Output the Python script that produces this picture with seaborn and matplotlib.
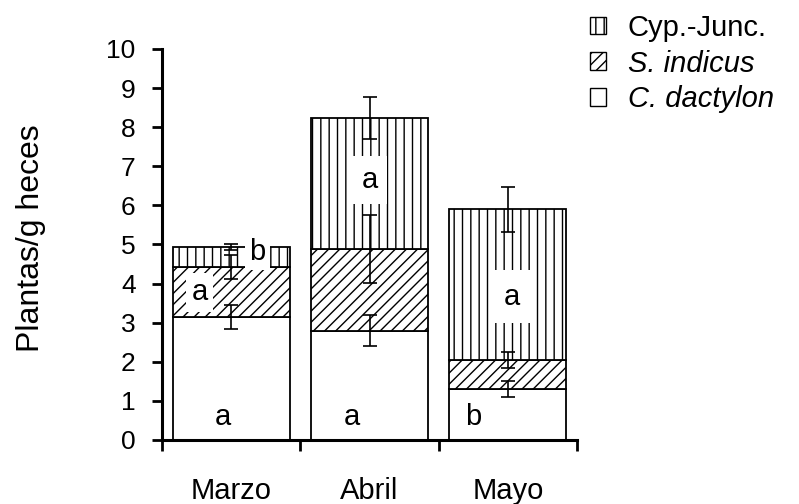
import numpy as np
import matplotlib
matplotlib.use("Agg")
import matplotlib.pyplot as plt
import matplotlib.patches as mpatches
import seaborn as sns

# data (plants per gram of faeces)
months = ["Marzo", "Abril", "Mayo"]
c_dactylon = [3.15, 2.80, 1.30]
s_indicus = [1.27, 2.08, 0.75]
cyp_junc = [0.52, 3.35, 3.85]
c_dactylon_err = [0.30, 0.40, 0.20]
s_indicus_err = [0.30, 0.87, 0.20]
cyp_junc_err = [0.08, 0.53, 0.57]
letters_dactylon = ["a", "a", "b"]
letters_indicus = ["a", "", ""]
letters_cyp = ["b", "a", "a"]

sns.set_style("ticks")
plt.rcParams["font.family"] = ["Liberation Sans", "DejaVu Sans"]
plt.rcParams["hatch.linewidth"] = 1.0
plt.rcParams["hatch.color"] = "black"
for key in ["text.color", "axes.labelcolor", "xtick.color", "ytick.color", "axes.edgecolor"]:
    plt.rcParams[key] = "black"

fig = plt.figure(figsize=(7.99, 5.04), dpi=100)
ax = fig.add_axes([0.2028, 0.127, 0.5194, 0.7758])

bar_kw = dict(color="white", edgecolor="black", linewidth=1.3, width=0.845,
              errorbar=None, saturation=1, ax=ax)
base2 = np.array(c_dactylon)
base3 = base2 + np.array(s_indicus)
sns.barplot(x=months, y=c_dactylon, **bar_kw)
sns.barplot(x=months, y=s_indicus, bottom=base2, hatch="///", **bar_kw)
sns.barplot(x=months, y=cyp_junc, bottom=base3, hatch="||", **bar_kw)

xpos = np.arange(len(months))
err_kw = dict(fmt="none", ecolor="black", elinewidth=1.2, capsize=5, capthick=1.2, zorder=4)
ax.errorbar(xpos, base2, yerr=c_dactylon_err, **err_kw)
ax.errorbar(xpos, base3, yerr=s_indicus_err, **err_kw)
ax.errorbar(xpos, base3 + np.array(cyp_junc), yerr=cyp_junc_err, **err_kw)

# significance letters (white boxes hide the hatching behind them)
txt_kw = dict(fontsize=21, ha="center", va="center", zorder=6)
dact_dx = [-0.06, -0.13, -0.25]
for i, s in enumerate(letters_dactylon):
    ax.text(i + dact_dx[i], 0.6, s, **txt_kw)
for i, s in enumerate(letters_indicus):
    if s:
        ax.text(i - 0.23, 3.78, s, bbox=dict(facecolor="white", edgecolor="none", pad=4), **txt_kw)
cyp_pos = [(0.19, 4.80), (0.0, 6.65), (0.03, 3.66)]
cyp_pad = [3, 7, 9]
for i, s in enumerate(letters_cyp):
    dx, y = cyp_pos[i]
    ax.text(i + dx, y, s, bbox=dict(facecolor="white", edgecolor="none", pad=cyp_pad[i]), **txt_kw)

ax.set_ylim(0, 10)
ax.set_yticks(range(0, 11))
ax.set_xlim(-0.5, 2.5)
ax.set_xticks([-0.5, 0.5, 1.5, 2.5])
ax.set_xticklabels([])
ax.set_xticks(xpos, minor=True)
ax.set_xticklabels(months, minor=True)
ax.tick_params(axis="x", which="major", length=8, width=2, direction="out")
ax.tick_params(axis="x", which="minor", length=0, pad=27, labelsize=21)
ax.tick_params(axis="y", length=7, width=2, direction="out", pad=12, labelsize=19)
ax.set_xlabel("")
ax.set_ylabel("Plantas/g heces", fontsize=23, va="center")
ax.yaxis.set_label_coords(-0.315, 0.517)

sns.despine(ax=ax)
for side in ["left", "bottom"]:
    ax.spines[side].set_linewidth(2.2)

handles = [
    mpatches.Patch(facecolor="white", edgecolor="black", hatch="||", label="Cyp.-Junc."),
    mpatches.Patch(facecolor="white", edgecolor="black", hatch="///", label="S. indicus"),
    mpatches.Patch(facecolor="white", edgecolor="black", label="C. dactylon"),
]
leg = fig.legend(handles=handles, loc="upper left", bbox_to_anchor=(590 / 799, 1 - 14 / 504),
                 frameon=False, fontsize=21, handlelength=0.55, handleheight=0.55,
                 handletextpad=0.75, labelspacing=0.26, borderpad=0, borderaxespad=0)
for t in leg.get_texts()[1:]:
    t.set_style("italic")

fig.savefig("out.png", dpi=100)
